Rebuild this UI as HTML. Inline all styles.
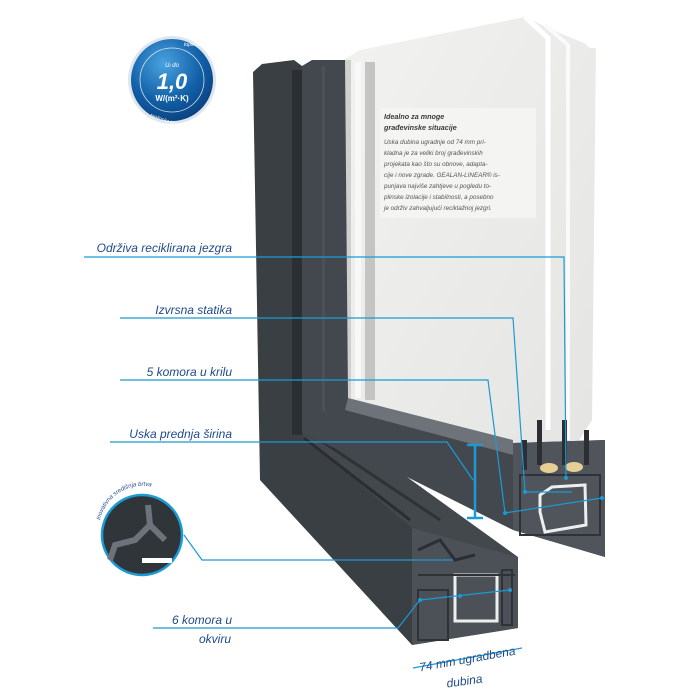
<!DOCTYPE html>
<html><head><meta charset="utf-8"><style>
html,body{margin:0;padding:0;background:#fff;width:700px;height:700px;overflow:hidden}
svg{display:block}
text{font-family:"Liberation Sans",sans-serif}
</style></head><body>
<svg width="700" height="700" viewBox="0 0 700 700" xmlns="http://www.w3.org/2000/svg">
<defs>
<radialGradient id="bg1" cx="40%" cy="30%" r="75%"><stop offset="0" stop-color="#4aa3df"/><stop offset="0.6" stop-color="#1260a8"/><stop offset="1" stop-color="#0a3f7c"/></radialGradient>
<linearGradient id="gl" x1="0" y1="0" x2="1" y2="1"><stop offset="0" stop-color="#f2f2f1"/><stop offset="1" stop-color="#e4e4e2"/></linearGradient>
</defs>
<!-- glass -->
<polygon points="343,60 360,50 525,17 548,28 596,48 592,420 565,462 350,398" fill="url(#gl)"/>
<polygon points="548,28 560,22 590,48 596,48" fill="#fff"/>
<polyline points="525,17 548,38 548,430" fill="none" stroke="#fff" stroke-width="5"/>
<polyline points="545,25 568,45 568,440" fill="none" stroke="#fafafa" stroke-width="4"/>
<rect x="343" y="60" width="8" height="338" fill="#cfcfce"/>
<rect x="355" y="62" width="6" height="336" fill="#f8f8f8"/>
<rect x="365" y="62" width="10" height="338" fill="#c4c4c3"/>
<!-- text box -->
<rect x="380" y="108" width="156" height="110" fill="#f4f4f3"/>
<g font-style="italic" fill="#3a3a3a">
<text x="384" y="119" font-size="7.2" font-weight="bold">Idealno za mnoge</text>
<text x="384" y="130" font-size="7.2" font-weight="bold">građevinske situacije</text>
<g font-size="6.3" fill="#555">
<text x="384" y="144">Uska dubina ugradnje od 74 mm pri-</text>
<text x="384" y="155">kladna je za veliki broj građevinskih</text>
<text x="384" y="166">projekata kao što su obnove, adapta-</text>
<text x="384" y="177">cije i nove zgrade. GEALAN-LINEAR® is-</text>
<text x="384" y="188">punjava najviše zahtjeve u pogledu to-</text>
<text x="384" y="199">plinske izolacije i stabilnosti, a posebno</text>
<text x="384" y="210">je održiv zahvaljujući reciklažnoj jezgri.</text>
</g></g>
<!-- frame -->
<polygon points="253,72 262,64 294,60 302,66 300,430 407,477 518,557 518,628 412,645 260,480" fill="#3a3f44"/>
<!-- frame top surface -->
<polygon points="300,433 407,477 518,557 412,528" fill="#43484d"/>
<polyline points="304,438 410,520" fill="none" stroke="#2a2d31" stroke-width="3"/>
<polyline points="320,440 440,520" fill="none" stroke="#2e3236" stroke-width="3"/>
<!-- frame section -->
<polygon points="412,528 518,557 518,628 412,645" fill="#4b5157"/>
<rect x="455" y="575" width="42" height="46" fill="none" stroke="#eee" stroke-width="3"/>
<path d="M418,550 L440,540 L455,560 L475,555" fill="none" stroke="#2b2f33" stroke-width="3"/>
<line x1="418" y1="575" x2="515" y2="575" stroke="#2f3337" stroke-width="2"/>
<rect x="418" y="590" width="30" height="50" fill="none" stroke="#2f3337" stroke-width="2"/>
<rect x="502" y="570" width="10" height="55" fill="none" stroke="#2f3337" stroke-width="2"/>
<!-- sash -->
<polygon points="302,66 312,60 345,60 348,398 513,443 605,440 605,557 513,530 300,432" fill="#42484e"/>
<polygon points="348,398 513,440 513,455 345,410" fill="#6d7378"/>
<rect x="292" y="70" width="10" height="365" fill="#2b2f33"/>
<rect x="322" y="66" width="3" height="345" fill="#4b5157"/>
<!-- sash section -->
<polygon points="513,443 605,440 605,557 513,530" fill="#4f555b"/>
<rect x="522" y="440" width="5" height="30" fill="#2b2f33"/>
<rect x="537" y="420" width="5" height="45" fill="#2b2f33"/>
<rect x="562" y="420" width="5" height="45" fill="#2b2f33"/>
<rect x="584" y="430" width="5" height="35" fill="#2b2f33"/>
<ellipse cx="549" cy="468" rx="9" ry="5" fill="#e6cf95"/>
<ellipse cx="574" cy="467" rx="9" ry="5" fill="#e6cf95"/>
<path d="M540,495 L552,487 L585,485 L586,525 L545,532 L540,512 Z" fill="none" stroke="#eee" stroke-width="3"/>
<rect x="520" y="475" width="80" height="60" fill="none" stroke="#2f3337" stroke-width="2"/>
<!-- white wedge -->
<polygon points="407,477 513,530 518,557" fill="#fff"/>
<!-- I beam -->
<g stroke="#1b9ad6" stroke-width="2.5">
<line x1="475" y1="445" x2="475" y2="518"/>
<line x1="467" y1="445" x2="483" y2="445"/>
<line x1="467" y1="518" x2="483" y2="518"/>
</g>
<!-- callouts -->
<g fill="none" stroke="#1b9ad6" stroke-width="1.2">
<polyline points="84,257 564,257 566,478"/>
<polyline points="120,318 513,318 525,492 572,492"/>
<polyline points="120,380 488,380 505,513 602,498"/>
<polyline points="110,442 447,442 473,480"/>
<polyline points="184,535 202,560 453,560"/>
<polyline points="153,628 398,628 420,600 510,590"/>
<line x1="413" y1="668" x2="522" y2="648"/>
</g>
<g fill="#1b9ad6"><circle cx="566" cy="478" r="2"/><circle cx="525" cy="492" r="2"/><circle cx="505" cy="513" r="2"/><circle cx="602" cy="498" r="2"/><circle cx="510" cy="590" r="2"/><circle cx="420" cy="600" r="2"/><circle cx="460" cy="596" r="2"/></g>
<g font-style="italic" font-size="12" fill="#1f4a8a" text-anchor="end">
<text x="232" y="252">Održiva reciklirana jezgra</text>
<text x="232" y="314">Izvrsna statika</text>
<text x="232" y="376">5 komora u krilu</text>
<text x="232" y="438">Uska prednja širina</text>
<text x="232" y="624">6 komora u</text>
<text x="231" y="643">okviru</text>
</g>
<text x="468" y="663" font-style="italic" font-size="12" fill="#1f4a8a" text-anchor="middle" transform="rotate(-10 468 663)">74 mm ugradbena</text>
<text x="465" y="685" font-style="italic" font-size="12" fill="#1f4a8a" text-anchor="middle" transform="rotate(-8 465 685)">dubina</text>
<!-- inset circle -->
<circle cx="142" cy="535" r="40" fill="#30353a" stroke="#1b9ad6" stroke-width="2.5"/>
<path d="M148,505 L150,525 L135,540 L115,545 L110,560 M150,525 L165,540" fill="none" stroke="#6c737a" stroke-width="6"/>
<rect x="142" y="558" width="30" height="5" fill="#fff"/>
<path id="arc" d="M100,520 A44,44 0 0 1 184,514" fill="none"/>
<text font-size="6" fill="#1f4a8a" font-style="italic"><textPath href="#arc">inovativna središnja brtva</textPath></text>
<!-- badge -->
<circle cx="172" cy="80" r="44" fill="#dde6ee"/>
<circle cx="172" cy="80" r="41" fill="url(#bg1)"/>
<circle cx="172" cy="80" r="32" fill="none" stroke="#fff" stroke-width="0.8" opacity="0.8"/>
<text x="172" y="67" font-size="6" fill="#fff" text-anchor="middle" font-style="italic">U<tspan font-size="4">f</tspan> do</text>
<text x="172" y="89" font-size="22" fill="#fff" font-weight="bold" font-style="italic" text-anchor="middle">1,0</text>
<text x="172" y="101" font-size="8" fill="#fff" font-weight="bold" text-anchor="middle">W/(m²·K)</text>
<text x="184" y="46" font-size="5" fill="#fff" font-style="italic">toplinska</text>
<text x="150" y="120" font-size="5" fill="#fff" font-style="italic" transform="rotate(20 160 118)">toplinska izolacija</text>
</svg>
</body></html>
